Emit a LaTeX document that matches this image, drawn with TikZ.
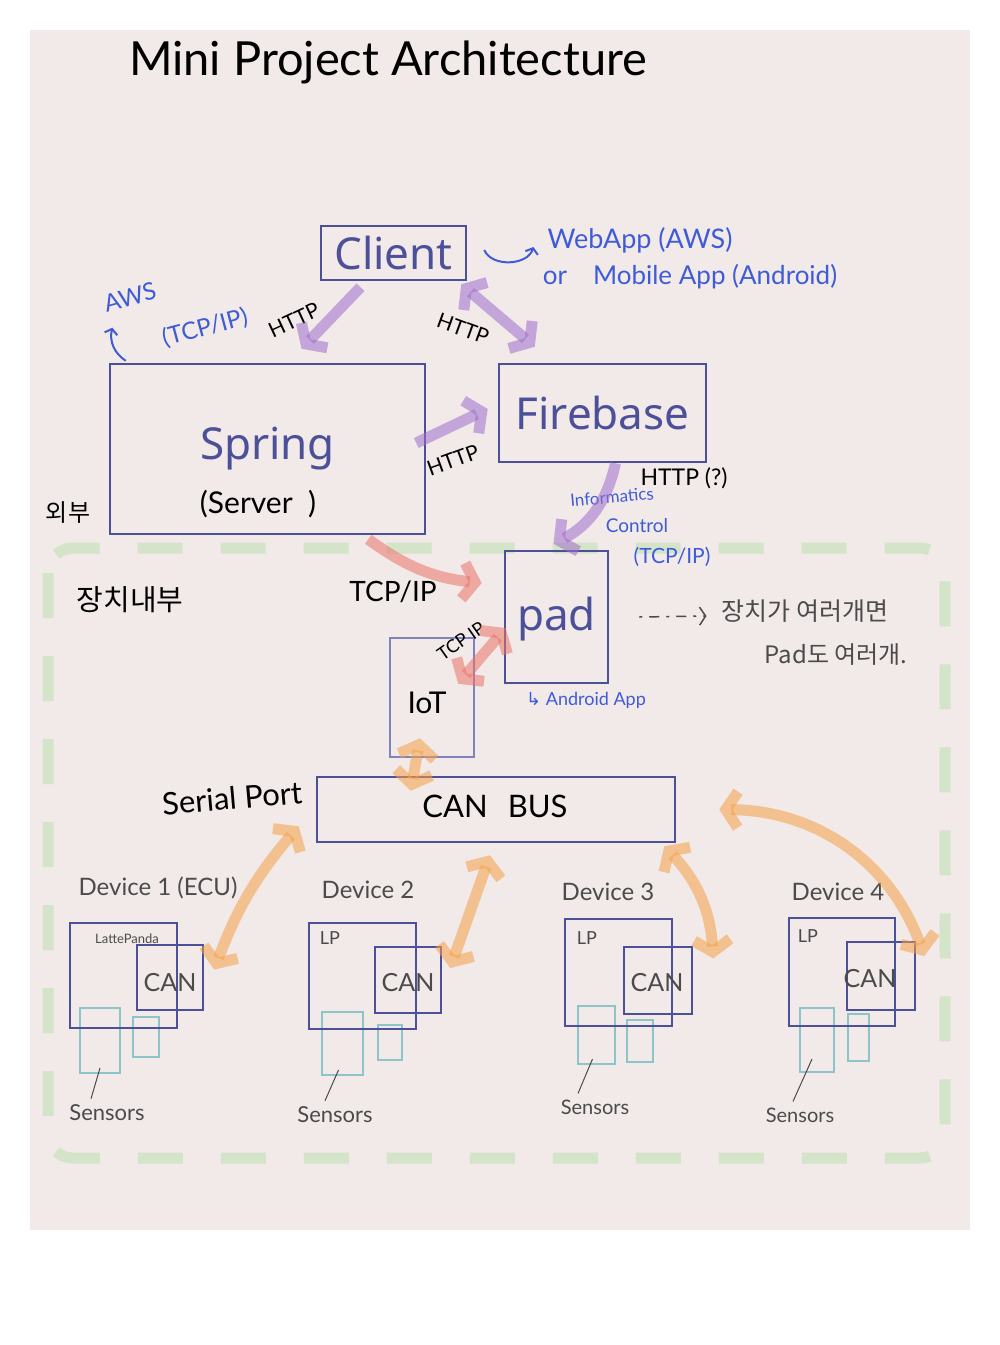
\documentclass[tikz,border=0pt]{standalone}
\usepackage{fontspec}
\setmainfont{Noto Sans}
\newfontfamily\hand{Lato}
\newfontfamily\krfont{Noto Sans CJK KR}
\newfontfamily\symfont{DejaVu Sans}
\usetikzlibrary{arrows.meta,calc}

\definecolor{paper}{RGB}{242,233,233}
\definecolor{boxblue}{RGB}{76,80,152}
\definecolor{iotblue}{RGB}{128,130,188}
\definecolor{inkblue}{RGB}{62,92,214}
\definecolor{sensorteal}{RGB}{140,196,200}
\definecolor{devgray}{RGB}{75,75,75}
\definecolor{purplemark}{RGB}{160,110,205}
\definecolor{redmark}{RGB}{235,115,105}
\definecolor{orangemark}{RGB}{245,160,70}
\definecolor{greenmark}{RGB}{212,228,200}

\tikzset{
  box/.style={draw=boxblue, line width=2.5pt, inner sep=0pt},
  boxtext/.style={text=boxblue, inner sep=0pt, font=\fontsize{44}{44}\selectfont},
  sensor/.style={draw=sensorteal, line width=2pt, inner sep=0pt},
  note/.style={inner sep=0pt, font=\hand\fontsize{24}{24}\selectfont},
  bluenote/.style={note, text=inkblue},
  graynote/.style={note, text=devgray},
  marker/.style={line width=11pt, draw opacity=.55},
  onehead/.style={marker, -{Straight Barb[length=12pt,width=36pt]}},
  twohead/.style={marker, {Straight Barb[length=12pt,width=36pt]}-{Straight Barb[length=12pt,width=36pt]}},
  inkarrow/.style={inkblue, line width=2pt, -{Straight Barb[length=5pt,width=13pt]}},
}

\begin{document}
\begin{tikzpicture}[x=1pt,y=-1pt]
\useasboundingbox (0,0) rectangle (1000,1345);
\fill[white] (0,0) rectangle (1000,1345);
\fill[paper] (30,30) rectangle (970,1230);

\node[note, font=\hand\fontsize{47}{47}\selectfont] (title) at (388,62) {Mini Project Architecture};

% inside of the device
\draw[greenmark, line width=11pt, dash pattern=on 45pt off 38pt, rounded corners=25pt] (48,548) rectangle (945,1158);

% boxes
\node[box, minimum width=145pt, minimum height=54pt] (client) at (393.5,253) {};
\node[boxtext] (clienttxt) at (client) {Client};
\node[box, minimum width=315pt, minimum height=170pt] (spring) at (267.5,449) {};
\node[boxtext] (springtxt) at (267.5,449) {Spring};
\node[note, font=\hand\fontsize{30}{30}\selectfont] (servertxt) at (258,504) {(Server\ \ )};
\node[box, minimum width=207pt, minimum height=98pt] (firebase) at (602.5,413) {};
\node[boxtext] (firebasetxt) at (firebase) {Firebase};
\node[box, minimum width=103pt, minimum height=132pt] (pad) at (556.5,617) {};
\node[boxtext] (padtxt) at (556.5,619) {pad};
\node[box, draw=iotblue, minimum width=84pt, minimum height=119pt] (iot) at (432,697.5) {};
\node[note, font=\hand\fontsize{30}{30}\selectfont] (iottxt) at (427,703) {IoT};
\node[box, minimum width=358pt, minimum height=65pt] (canbus) at (496,809.5) {};
\node[note, font=\hand\fontsize{31}{31}\selectfont] (canbustxt) at (495,806) {CAN\hspace{20pt}BUS};

% side notes
\node[bluenote, font=\hand\fontsize{27}{27}\selectfont] (webapp) at (640,240) {WebApp (AWS)};
\node[bluenote, font=\hand\fontsize{26}{26}\selectfont] (mobileapp) at (690,277) {or\quad Mobile App (Android)};
\node[bluenote, rotate=15] (aws) at (130,297) {AWS};
\node[bluenote, rotate=15] (awstcp) at (205,328) {(TCP/IP)};
\node[note, rotate=25, font=\hand\fontsize{21}{21}\selectfont] (httpa) at (294,320) {HTTP};
\node[note, rotate=-20, font=\hand\fontsize{21}{21}\selectfont] (httpb) at (463,329) {HTTP};
\node[note, rotate=20, font=\hand\fontsize{21}{21}\selectfont] (httpc) at (453,460) {HTTP};
\node[note, font=\hand\fontsize{23}{23}\selectfont] (httpd) at (684,478) {HTTP (?)};
\node[bluenote, rotate=5, font=\hand\fontsize{17}{17}\selectfont] (informatics) at (612,497) {Informatics};
\node[bluenote, font=\hand\fontsize{19}{19}\selectfont] (control) at (637,526) {Control};
\node[bluenote, font=\hand\fontsize{21}{21}\selectfont] (padtcp) at (672,557) {(TCP/IP)};
\node[note, font=\hand\fontsize{28}{28}\selectfont] (tcpa) at (393,592) {TCP/IP};
\node[note, rotate=35, font=\hand\fontsize{18}{18}\selectfont] (tcpb) at (461,641) {TCP IP};
\node[bluenote, font=\hand\fontsize{18}{18}\selectfont] (androidapp) at (586,700) {{\symfont ↳} Android App};
\node[note, rotate=5, font=\hand\fontsize{31}{31}\selectfont] (serialport) at (232,798) {Serial Port};
\node[note, font=\krfont\fontsize{24}{24}\selectfont] (outside) at (68,513) {외부};
\node[note, font=\krfont\fontsize{29}{29}\selectfont] (inside) at (130,600) {장치내부};
\node[graynote, font=\krfont\fontsize{25}{25}\selectfont] (manydev) at (805,611) {장치가 여러개면};
\node[graynote, font=\krfont\fontsize{24}{24}\selectfont] (manypad) at (836,655) {Pad도 여러개.};

% device 1
\node[graynote] (dev1) at (158,888) {Device 1 (ECU)};
\node[sensor, minimum width=40pt, minimum height=65pt] (s1a) at (100,1040.5) {};
\node[sensor, minimum width=26pt, minimum height=40pt] (s1b) at (146,1037) {};
\node[box, minimum width=107pt, minimum height=105pt] (lp1) at (123.5,975.5) {};
\node[box, minimum width=66pt, minimum height=65pt] (can1) at (170,977.5) {};
\node[graynote, font=\hand\fontsize{13}{13}\selectfont] (lp1txt) at (127,939) {LattePanda};
\node[graynote, font=\hand\fontsize{25}{25}\selectfont] (can1txt) at (170,983) {CAN};
\node[graynote, font=\hand\fontsize{22}{22}\selectfont] (sen1) at (107,1113) {Sensors};
\draw[devgray, line width=1pt] ($(s1a.south)+(0,-6)$) -- ($(sen1.north)+(-16,-6)$);

% device 2
\node[graynote] (dev2) at (368,890) {Device 2};
\node[sensor, minimum width=41pt, minimum height=63pt] (s2a) at (342.5,1043.5) {};
\node[sensor, minimum width=24pt, minimum height=35pt] (s2b) at (390,1042.5) {};
\node[box, minimum width=107pt, minimum height=106pt] (lp2) at (362.5,976) {};
\node[box, minimum width=66pt, minimum height=66pt] (can2) at (408,980) {};
\node[graynote, font=\hand\fontsize{18}{18}\selectfont] (lp2txt) at (330,938) {LP};
\node[graynote, font=\hand\fontsize{25}{25}\selectfont] (can2txt) at (408,983) {CAN};
\node[graynote, font=\hand\fontsize{22}{22}\selectfont] (sen2) at (335,1115) {Sensors};
\draw[devgray, line width=1pt] ($(s2a.south)+(-4,-6)$) -- ($(sen2.north)+(-10,-6)$);

% device 3
\node[graynote] (dev3) at (608,892) {Device 3};
\node[sensor, minimum width=37pt, minimum height=58pt] (s3a) at (596.5,1035) {};
\node[sensor, minimum width=26pt, minimum height=42pt] (s3b) at (640,1041) {};
\node[box, minimum width=107pt, minimum height=107pt] (lp3) at (618.5,972.5) {};
\node[box, minimum width=68pt, minimum height=67pt] (can3) at (658,980.5) {};
\node[graynote, font=\hand\fontsize{18}{18}\selectfont] (lp3txt) at (587,938) {LP};
\node[graynote, font=\hand\fontsize{25}{25}\selectfont] (can3txt) at (657,983) {CAN};
\node[graynote, font=\hand\fontsize{20}{20}\selectfont] (sen3) at (595,1107) {Sensors};
\draw[devgray, line width=1pt] ($(s3a.south)+(-4,-6)$) -- ($(sen3.north)+(-17,-6)$);

% device 4
\node[graynote] (dev4) at (838,892) {Device 4};
\node[sensor, minimum width=34pt, minimum height=64pt] (s4a) at (817,1040) {};
\node[sensor, minimum width=21pt, minimum height=47pt] (s4b) at (858.5,1037.5) {};
\node[box, minimum width=106pt, minimum height=108pt] (lp4) at (842,972) {};
\node[box, minimum width=68pt, minimum height=68pt] (can4) at (881,976) {};
\node[graynote, font=\hand\fontsize{18}{18}\selectfont] (lp4txt) at (808,936) {LP};
\node[graynote, font=\hand\fontsize{25}{25}\selectfont] (can4txt) at (870,979) {CAN};
\node[graynote, font=\hand\fontsize{20}{20}\selectfont] (sen4) at (800,1115) {Sensors};
\draw[devgray, line width=1pt] ($(s4a.south)+(-5,-14)$) -- ($(sen4.north)+(-7,-6)$);

% thin blue arrows
\draw[inkarrow] ($(spring.north west)+(17,-2)$) to[bend left=35] ($(aws.south)+(-20,22)$);
\draw[inkarrow] ($(client.east)+(17,-3)$) to[bend right=70] ($(webapp.west)+(-14,7)$);
\draw[devgray, line width=1.5pt, dash pattern=on 3pt off 7pt on 10pt off 7pt, -{Straight Barb[length=6pt,width=18pt]}] ($(pad.east)+(30,0)$) -- ($(manydev.west)+(-15,5)$);

% HTTP links
\draw[onehead, purplemark] ($(client.south)+(-33,6)$) -- ($(spring.north)+(34,-14)$);
\draw[twohead, purplemark] ($(client.south east)+(-6,3)$) -- ($(firebase.north west)+(37,-16)$);
\draw[onehead, purplemark] ($(spring.east)+(-10,-6)$) -- ($(firebase.west)+(-10,-4)$);
\draw[onehead, purplemark] ($(firebase.south)+(13,0)$) to[bend left=25] ($(pad.north)+(-3,-6)$);

% TCP/IP links
\draw[onehead, redmark] ($(spring.south east)+(-58,4)$) to[bend right=15] ($(pad.west)+(-22,-34)$);
\draw[twohead, redmark] ($(pad.west)+(2,11)$) -- ($(iot.north east)+(-17,47)$);

% CAN links
\draw[twohead, orangemark] ($(iot.south)+(-12,-20)$) -- ($(canbus.north west)+(95,15)$);
\draw[twohead, orangemark] ($(canbus.south west)+(-17,-17)$) to[bend right=10] ($(can1.east)+(10,-8)$);
\draw[twohead, orangemark] ($(canbus.south)+(-6,12)$) -- ($(can2.east)+(8,-12)$);
\draw[twohead, orangemark] ($(canbus.south east)+(-12,3)$) to[bend left=20] ($(can3.east)+(20,-22)$);
\draw[twohead, orangemark] ($(canbus.east)+(43,0)$) to[bend left=35] ($(can4.east)+(8,-20)$);
\end{tikzpicture}
\end{document}
